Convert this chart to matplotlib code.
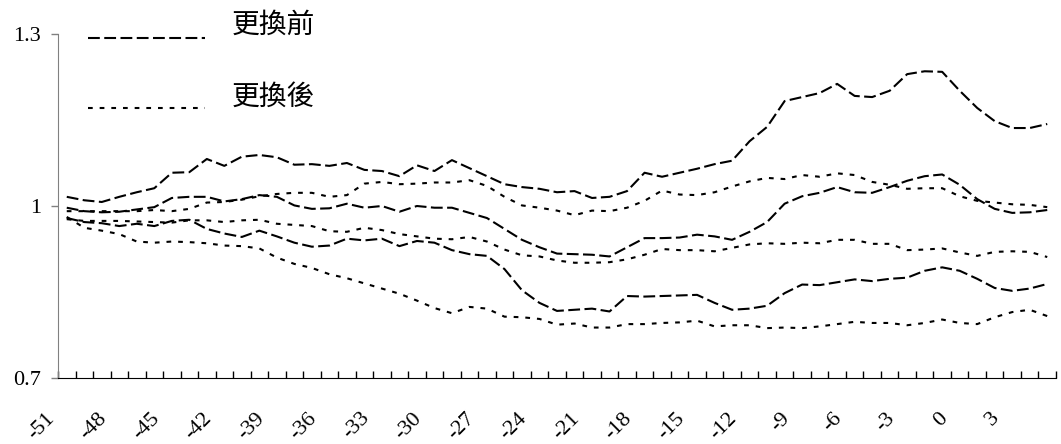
import matplotlib.pyplot as plt
from matplotlib.lines import Line2D
from matplotlib.transforms import ScaledTranslation

plt.rcParams['font.family'] = ['Liberation Serif', 'DejaVu Serif']
plt.rcParams['lines.scale_dashes'] = False

# categories: days relative to the change
DAYS = list(range(-51, 6))

# 更換前 (dashed)
BEFORE_HIGH = [1.016, 1.010, 1.007, 1.016, 1.024, 1.031, 1.058, 1.059, 1.082, 1.070,
               1.086, 1.089, 1.085, 1.072, 1.073, 1.070, 1.075, 1.063, 1.061, 1.052,
               1.071, 1.061, 1.080, 1.066, 1.052, 1.038, 1.033, 1.030, 1.024, 1.026,
               1.014, 1.016, 1.026, 1.058, 1.051, 1.058, 1.065, 1.073, 1.079, 1.113,
               1.138, 1.183, 1.190, 1.197, 1.213, 1.192, 1.190, 1.201, 1.230, 1.235,
               1.234, 1.201, 1.171, 1.148, 1.136, 1.136, 1.143]
BEFORE_MID = [0.997, 0.991, 0.989, 0.990, 0.994, 0.998, 1.014, 1.016, 1.016, 1.008,
              1.012, 1.019, 1.016, 1.001, 0.995, 0.996, 1.004, 0.997, 1.000, 0.990,
              1.000, 0.997, 0.997, 0.988, 0.979, 0.960, 0.941, 0.928, 0.917, 0.916,
              0.915, 0.912, 0.928, 0.944, 0.944, 0.945, 0.950, 0.947, 0.941, 0.955,
              0.972, 1.004, 1.017, 1.023, 1.033, 1.024, 1.023, 1.033, 1.044, 1.052,
              1.055, 1.037, 1.012, 0.995, 0.988, 0.989, 0.993]
BEFORE_LOW = [0.979, 0.972, 0.970, 0.965, 0.969, 0.965, 0.974, 0.976, 0.960, 0.952,
              0.946, 0.957, 0.947, 0.936, 0.929, 0.931, 0.943, 0.940, 0.943, 0.930,
              0.939, 0.936, 0.923, 0.916, 0.913, 0.890, 0.853, 0.831, 0.817, 0.819,
              0.821, 0.816, 0.843, 0.842, 0.843, 0.844, 0.845, 0.831, 0.819, 0.821,
              0.826, 0.848, 0.863, 0.862, 0.867, 0.872, 0.869, 0.873, 0.875, 0.887,
              0.893, 0.887, 0.873, 0.857, 0.852, 0.856, 0.864]

# 更換後 (dotted)
AFTER_HIGH = [0.991, 0.991, 0.991, 0.991, 0.991, 0.993, 0.991, 0.995, 1.006, 1.007,
              1.011, 1.017, 1.021, 1.023, 1.023, 1.016, 1.019, 1.039, 1.042, 1.038,
              1.039, 1.041, 1.041, 1.045, 1.035, 1.016, 1.001, 0.997, 0.992, 0.984,
              0.992, 0.991, 0.997, 1.009, 1.027, 1.020, 1.019, 1.024, 1.034, 1.043,
              1.049, 1.047, 1.054, 1.051, 1.057, 1.054, 1.042, 1.037, 1.030, 1.031,
              1.031, 1.017, 1.009, 1.006, 1.003, 1.002, 0.998]
AFTER_MID = [0.977, 0.974, 0.974, 0.974, 0.973, 0.972, 0.971, 0.975, 0.975, 0.972,
             0.975, 0.976, 0.969, 0.967, 0.965, 0.956, 0.955, 0.962, 0.958, 0.951,
             0.947, 0.943, 0.942, 0.946, 0.938, 0.924, 0.914, 0.912, 0.905, 0.901,
             0.901, 0.902, 0.907, 0.915, 0.925, 0.923, 0.923, 0.921, 0.927, 0.933,
             0.935, 0.934, 0.936, 0.935, 0.941, 0.941, 0.934, 0.934, 0.923, 0.924,
             0.926, 0.919, 0.913, 0.920, 0.921, 0.920, 0.911]
AFTER_LOW = [0.981, 0.962, 0.957, 0.951, 0.938, 0.936, 0.938, 0.937, 0.935, 0.931,
             0.930, 0.926, 0.910, 0.899, 0.892, 0.881, 0.874, 0.865, 0.856, 0.847,
             0.835, 0.822, 0.813, 0.824, 0.821, 0.807, 0.806, 0.803, 0.793, 0.795,
             0.788, 0.788, 0.794, 0.794, 0.796, 0.797, 0.800, 0.790, 0.792, 0.792,
             0.787, 0.788, 0.787, 0.790, 0.794, 0.798, 0.796, 0.796, 0.792, 0.796,
             0.802, 0.796, 0.794, 0.806, 0.815, 0.819, 0.808]

LEGEND_LABELS = ['更換前', '更換後']
DASHED = (8.5, 3.2)
DOTTED = (3.4, 5.0)

fig = plt.figure(figsize=(10.61, 4.44), dpi=100)
ax = fig.add_axes([58 / 1061, 66 / 444, 998 / 1061, 344 / 444])

xs = list(range(len(DAYS)))
for series in (BEFORE_HIGH, BEFORE_MID, BEFORE_LOW):
    ax.plot(xs, series, color='black', lw=1.5, dashes=DASHED)
for series in (AFTER_HIGH, AFTER_MID, AFTER_LOW):
    ax.plot(xs, series, color='black', lw=1.5, dashes=DOTTED)

ax.set_xlim(-0.5, len(DAYS) - 0.5)
ax.set_ylim(0.7, 1.3)

ax.spines['top'].set_visible(False)
ax.spines['right'].set_visible(False)
ax.spines['left'].set_color('#808080')
ax.spines['bottom'].set_color('black')

# x axis: tick marks between categories, labels every third category
ax.set_xticks([i - 0.5 for i in range(len(DAYS) + 1)], minor=True)
lab_pos = [i for i, d in enumerate(DAYS) if d % 3 == 0]
ax.set_xticks(lab_pos)
ax.set_xticklabels([str(DAYS[i]) for i in lab_pos], rotation=45,
                   ha='right', va='center', rotation_mode='anchor', fontsize=16)
ax.tick_params(axis='x', which='major', length=0, pad=27)
ax.tick_params(axis='x', which='minor', direction='in', length=5, width=1, color='black')
shift = ScaledTranslation(-11 / 72, 0, fig.dpi_scale_trans)
for lab in ax.get_xticklabels():
    lab.set_transform(lab.get_transform() + shift)

ax.set_yticks([0.7, 1.0, 1.3])
ax.set_yticklabels(['0.7', '1', '1.3'], fontsize=16)
ax.tick_params(axis='y', direction='out', length=5, width=1, color='#808080', pad=7)

# legend drawn by hand to match the layout
for y_line, y_text, dashes, label in [(0.9144, 0.9437, DASHED, LEGEND_LABELS[0]),
                                      (0.7568, 0.7815, DOTTED, LEGEND_LABELS[1])]:
    fig.add_artist(Line2D([0.083, 0.193], [y_line, y_line], color='black',
                          lw=1.5, dashes=dashes, transform=fig.transFigure))
    fig.text(0.2187, y_text, label, fontsize=20, va='center', ha='left',
             family=['Noto Sans CJK TC', 'DejaVu Sans'])

fig.savefig('out.png', dpi=100)
plt.close()
